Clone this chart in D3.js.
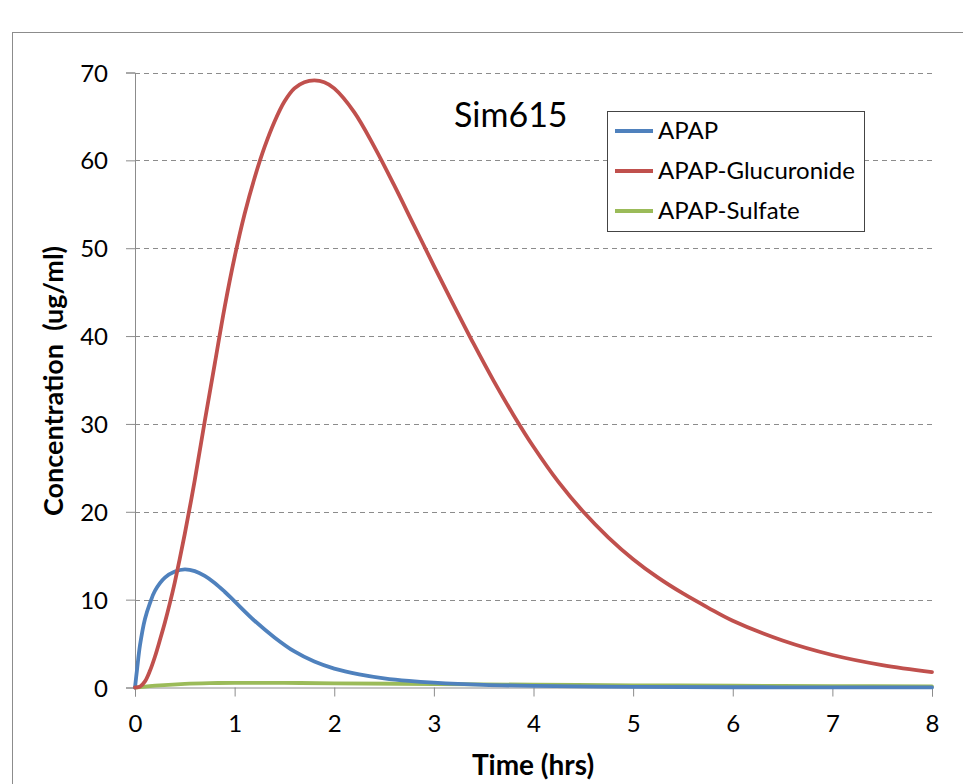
<!DOCTYPE html>
<html>
<head>
<meta charset="utf-8">
<script src="https://cdn.jsdelivr.net/npm/d3@7/dist/d3.min.js"></script>
<style>
  html, body { margin: 0; padding: 0; background: #fff; }
  svg { display: block; font-family: Lato, "Open Sans", sans-serif; }
</style>
</head>
<body>
<svg id="chart" width="963" height="784"></svg>
<script>
// values
const title = 'Sim615';
const xTicks = [0, 1, 2, 3, 4, 5, 6, 7, 8];
const yTicks = [0, 10, 20, 30, 40, 50, 60, 70];

const apapT = [0, 0.02, 0.05, 0.1, 0.15, 0.2, 0.3, 0.4, 0.5, 0.6, 0.7, 0.8, 0.9, 1.0, 1.2, 1.4, 1.6, 1.8, 2.0, 2.25, 2.5, 2.75, 3.0, 3.5, 4.0, 5.0, 6.0, 7.0, 8.0];
const apapC = [0, 2.0, 4.8, 7.8, 9.6, 11.0, 12.5, 13.2, 13.45, 13.25, 12.7, 11.9, 10.9, 9.8, 7.6, 5.7, 4.1, 2.95, 2.15, 1.5, 1.05, 0.75, 0.55, 0.3, 0.18, 0.07, 0.03, 0.02, 0.01];

const glucT = [0, 0.05, 0.1, 0.15, 0.2, 0.25, 0.3, 0.35, 0.4, 0.45, 0.5, 0.55, 0.6, 0.7, 0.8, 0.9, 1.0, 1.1, 1.2, 1.3, 1.4, 1.5, 1.6, 1.7, 1.8, 1.9, 2.0, 2.2, 2.4, 2.6, 2.8, 3.0, 3.2, 3.4, 3.6, 3.8, 4.0, 4.25, 4.5, 4.75, 5.0, 5.25, 5.5, 5.75, 6.0, 6.5, 7.0, 7.5, 8.0];
const glucC = [0, 0.1, 0.7, 1.9, 3.5, 5.4, 7.4, 9.6, 12.0, 14.7, 17.5, 20.5, 23.6, 30.3, 36.8, 43.3, 49.0, 53.9, 58.0, 61.5, 64.4, 66.7, 68.2, 68.9, 69.1, 68.9, 68.2, 65.5, 61.6, 57.2, 52.6, 48.0, 43.5, 39.1, 34.9, 31.0, 27.4, 23.4, 20.0, 17.1, 14.6, 12.5, 10.7, 9.1, 7.6, 5.35, 3.7, 2.55, 1.75];

const sulfT = [0, 0.25, 0.5, 0.75, 1.0, 1.5, 2, 3, 4, 5, 6, 7, 8];
const sulfC = [0, 0.25, 0.42, 0.5, 0.53, 0.52, 0.48, 0.4, 0.32, 0.25, 0.2, 0.16, 0.12];

const seriesNames = ['APAP', 'APAP-Glucuronide', 'APAP-Sulfate'];
const seriesColors = ['#4F81BD', '#C0504D', '#9BBB59'];

const series = [
  { name: seriesNames[0], color: seriesColors[0], pts: apapT.map((t, i) => [t, apapC[i]]) },
  { name: seriesNames[1], color: seriesColors[1], pts: glucT.map((t, i) => [t, glucC[i]]) },
  { name: seriesNames[2], color: seriesColors[2], pts: sulfT.map((t, i) => [t, sulfC[i]]) },
];

const svg = d3.select('#chart');
const grey = '#8c8c8c';
const FONT = 'Lato, "Open Sans", sans-serif';

// outer chart frame (runs off the picture right/bottom)
svg.append('rect')
  .attr('x', 12.5).attr('y', 32.5)
  .attr('width', 980).attr('height', 800)
  .attr('fill', 'none').attr('stroke', grey).attr('stroke-width', 1);

const x = d3.scaleLinear().domain([0, 8]).range([135, 932]);
const y = d3.scaleLinear().domain([0, 70]).range([687.5, 72.5]);

// gridlines
svg.append('g')
  .selectAll('line')
  .data(yTicks.filter((d) => d > 0))
  .join('line')
  .attr('x1', x(0)).attr('x2', x(8))
  .attr('y1', (d) => Math.round(y(d)) + 0.5).attr('y2', (d) => Math.round(y(d)) + 0.5)
  .attr('stroke', grey).attr('stroke-dasharray', '5,4').attr('stroke-width', 1);

// axes
const yAxis = svg.append('g')
  .attr('transform', `translate(${x(0)},0)`)
  .call(d3.axisLeft(y).tickValues(yTicks).tickSize(9).tickPadding(18).tickFormat(d3.format('d')));
const xAxis = svg.append('g')
  .attr('transform', `translate(0,${y(0)})`)
  .call(d3.axisBottom(x).tickValues(xTicks).tickSize(9).tickPadding(18).tickFormat(d3.format('d')));

[xAxis, yAxis].forEach((g) => {
  g.select('.domain').attr('stroke', grey);
  g.selectAll('.tick line').attr('stroke', grey);
  g.selectAll('.tick text').attr('font-size', 24).attr('fill', '#000')
    .attr('font-family', FONT);
});
yAxis.selectAll('.tick text').attr('dy', '0.36em');

// lines (smoothed like the spreadsheet chart)
const line = d3.line()
  .x((d) => x(d[0]))
  .y((d) => y(Math.max(0, d[1])))
  .curve(d3.curveCatmullRom.alpha(0.5));

svg.append('g')
  .selectAll('path')
  .data([series[2], series[0], series[1]])
  .join('path')
  .attr('d', (d) => line(d.pts))
  .attr('fill', 'none')
  .attr('stroke', (d) => d.color)
  .attr('stroke-width', 3.8)
  .attr('stroke-linejoin', 'round')
  .attr('stroke-linecap', 'round');

// title
svg.append('text')
  .attr('x', 454).attr('y', 127)
  .attr('font-size', 34)
  .text(title);

// legend
const leg = svg.append('g');
leg.append('rect')
  .attr('x', 607.5).attr('y', 111.5)
  .attr('width', 257).attr('height', 120)
  .attr('fill', '#fff').attr('stroke', '#444').attr('stroke-width', 1);
const item = leg.selectAll('g.item')
  .data(series)
  .join('g')
  .attr('class', 'item')
  .attr('transform', (d, i) => `translate(0,${131 + i * 40})`);
item.append('line')
  .attr('x1', 615).attr('x2', 653)
  .attr('stroke', (d) => d.color).attr('stroke-width', 3.8);
item.append('text')
  .attr('x', 658).attr('y', 8)
  .attr('font-size', 24)
  .text((d) => d.name);

// axis titles
svg.append('text')
  .attr('x', 533).attr('y', 775)
  .attr('text-anchor', 'middle')
  .attr('font-size', 28).attr('font-weight', 'bold')
  .text('Time (hrs)');
svg.append('text')
  .attr('transform', 'translate(63,381) rotate(-90)')
  .attr('text-anchor', 'middle')
  .attr('font-size', 27).attr('font-weight', 'bold')
  .style('white-space', 'pre')
  .text('Concentration  (ug/ml)');
</script>
</body>
</html>
